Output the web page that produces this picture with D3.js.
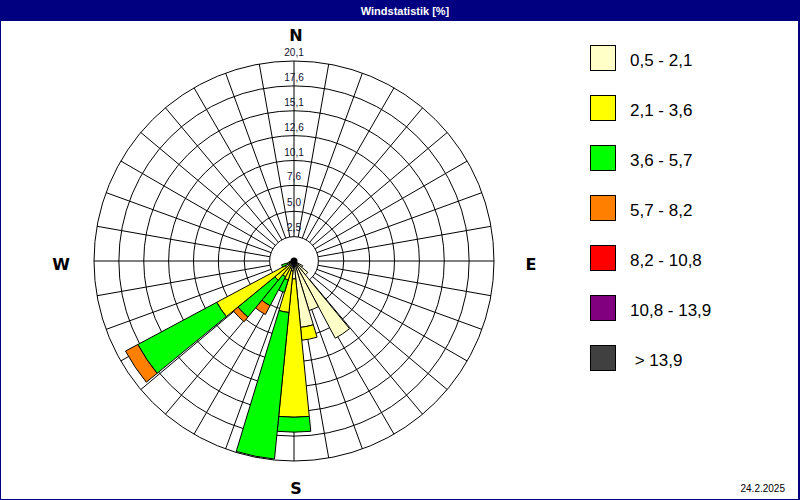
<!DOCTYPE html>
<html><head><meta charset="utf-8">
<script src="https://cdn.jsdelivr.net/npm/d3@7"></script>
<style>html,body{margin:0;padding:0;background:#fff;}svg{display:block;}</style>
</head><body>
<svg id="chart" width="800" height="500"></svg>
<script>
// ---- data ----
const title = "Windstatistik [%]";
const dateLabel = "24.2.2025";
const directions = [123.75, 135, 146.25, 157.5, 168.75, 180, 191.25, 202.5, 213.75, 225, 236.25, 247.5, 258.75];
const classLabels = ["0,5 - 2,1", "2,1 - 3,6", "3,6 - 5,7", "5,7 - 8,2", "8,2 - 10,8", "10,8 - 13,9", " > 13,9"];
const classColors = ["#FFFFC8", "#FFFF00", "#00FF00", "#FF8000", "#FF0000", "#800080", "#404040"];
const s1 = [1.0, 1.8, 8.8, 5.2, 6.7, 1.8, 1.0, 0.8, 0.5, 0.6, 1.0, 0.3, 0.0];
const s2 = [0.0, 0.0, 0.0, 0.0, 1.3, 13.9, 4.2, 1.2, 1.3, 1.9, 7.8, 0.4, 0.5];
const s3 = [0.0, 0.0, 0.0, 0.0, 0.0, 1.5, 14.8, 1.3, 3.3, 4.8, 9.0, 0.6, 0.0];
const s4 = [0.0, 0.0, 0.0, 0.0, 0.0, 0.0, 0.0, 0.0, 1.0, 0.6, 1.4, 0.0, 0.0];
const s5 = [0, 0, 0, 0, 0, 0, 0, 0, 0, 0, 0, 0, 0];
const s6 = [0, 0, 0, 0, 0, 0, 0, 0, 0, 0, 0, 0, 0];
const s7 = [0, 0, 0, 0, 0, 0, 0, 0, 0, 0, 0, 0, 0];
const series = [s1, s2, s3, s4, s5, s6, s7];
const ringTicks = [2.5, 5.0, 7.6, 10.1, 12.6, 15.1, 17.6, 20.1];
const ringLabels = ["2,5", "5,0", "7,6", "10,1", "12,6", "15,1", "17,6", "20,1"];
const maxValue = 20.1;
const sectorWidth = 11.25;
const spokeAngles = d3.range(0, 360, 10);
const compass = [{t:"N", a:0}, {t:"E", a:90}, {t:"S", a:180}, {t:"W", a:270}];

// ---- drawing ----
const svg = d3.select("#chart");
const W = 800, H = 500;
const cx = 294, cy = 261;
const R = 200;
const rad = d => d * Math.PI / 180;
const r = d3.scaleLinear().domain([0, maxValue]).range([0, R]);
const calmR = r(ringTicks[0]) - 0.5;

svg.append("rect").attr("x", 0).attr("y", 0).attr("width", W).attr("height", H).attr("fill", "#fff");
svg.append("rect").attr("x", 0).attr("y", 0).attr("width", W).attr("height", 21).attr("fill", "#000080");
svg.append("rect").attr("x", 0.5).attr("y", 0.5).attr("width", W - 1).attr("height", H - 1)
  .attr("fill", "none").attr("stroke", "#000080").attr("stroke-width", 1);
svg.append("line").attr("x1", 799).attr("x2", 799).attr("y1", 0).attr("y2", H).attr("stroke", "#000080").attr("stroke-width", 2);
svg.append("text").attr("x", 405).attr("y", 15).attr("text-anchor", "middle")
  .attr("font-family", "Liberation Sans, Arial, sans-serif").attr("font-weight", "bold").attr("font-size", 11)
  .attr("fill", "#fff").text(title);

const g = svg.append("g").attr("transform", `translate(${cx},${cy})`);

// spokes
g.selectAll("line.spoke").data(spokeAngles).join("line").attr("class", "spoke")
  .attr("x1", a => calmR * Math.sin(rad(a))).attr("y1", a => -calmR * Math.cos(rad(a)))
  .attr("x2", a => R * Math.sin(rad(a))).attr("y2", a => -R * Math.cos(rad(a)))
  .attr("stroke", "#000").attr("stroke-width", 1);

// rings
g.selectAll("circle.ring").data(ringTicks.slice(1)).join("circle").attr("class", "ring")
  .attr("r", d => r(d)).attr("fill", "none").attr("stroke", "#000").attr("stroke-width", 1);

// calm circle
g.append("circle").attr("r", calmR).attr("fill", "#fff").attr("stroke", "#000").attr("stroke-width", 1);

// ring labels
g.selectAll("text.rl").data(ringTicks).join("text").attr("class", "rl")
  .attr("x", 0).attr("y", d => -r(d) - 5).attr("text-anchor", "middle")
  .attr("font-family", "Liberation Sans, Arial, sans-serif").attr("font-size", 10)
  .attr("fill", "#101030").text((d, i) => ringLabels[i]);

// stacked sectors
const arc = d3.arc();
const segs = [];
directions.forEach((dir, i) => {
  let cum = 0;
  series.forEach((s, k) => {
    const v = s[i];
    if (v > 0) {
      segs.push({dir, k, inner: cum, outer: cum + v});
      cum += v;
    }
  });
});
g.selectAll("path.seg").data(segs).join("path").attr("class", "seg")
  .attr("d", d => arc({innerRadius: r(d.inner), outerRadius: r(d.outer),
    startAngle: rad(d.dir - sectorWidth / 2), endAngle: rad(d.dir + sectorWidth / 2)}))
  .attr("fill", d => classColors[d.k]).attr("stroke", "#000").attr("stroke-width", 1)
  .attr("stroke-linejoin", "miter");

g.append("circle").attr("r", 3.5).attr("fill", "#000");

// compass labels
const compassPos = {N: [2, -R - 29], S: [2, R + 232 - R - 5], E: [237, 9], W: [-233, 9]};
g.selectAll("text.cp").data(compass).join("text").attr("class", "cp")
  .attr("x", d => d.t === "N" || d.t === "S" ? 2 : (d.t === "E" ? 237 : -233))
  .attr("y", d => d.t === "N" ? -R - 20 : (d.t === "S" ? R + 33 : 9))
  .attr("text-anchor", "middle")
  .attr("font-family", "DejaVu Sans, sans-serif").attr("font-weight", "bold").attr("font-size", 16)
  .attr("fill", "#000").text(d => d.t);

// legend
const lg = svg.append("g").attr("transform", "translate(590,45)");
const items = lg.selectAll("g.item").data(classLabels).join("g").attr("class", "item")
  .attr("transform", (d, i) => `translate(0,${i * 50})`);
items.append("rect").attr("x", 0.5).attr("y", 0.5).attr("width", 25).attr("height", 25)
  .attr("fill", (d, i) => classColors[i]).attr("stroke", "#000").attr("stroke-width", 1);
items.append("text").attr("x", 40).attr("y", 21)
  .attr("font-family", "Liberation Sans, Arial, sans-serif").attr("font-size", 17)
  .attr("fill", "#000").attr("xml:space", "preserve").style("white-space", "pre").text(d => d);

svg.append("text").attr("x", 785).attr("y", 492).attr("text-anchor", "end")
  .attr("font-family", "Liberation Sans, Arial, sans-serif").attr("font-size", 10)
  .attr("fill", "#000").text(dateLabel);
</script>
</body></html>
